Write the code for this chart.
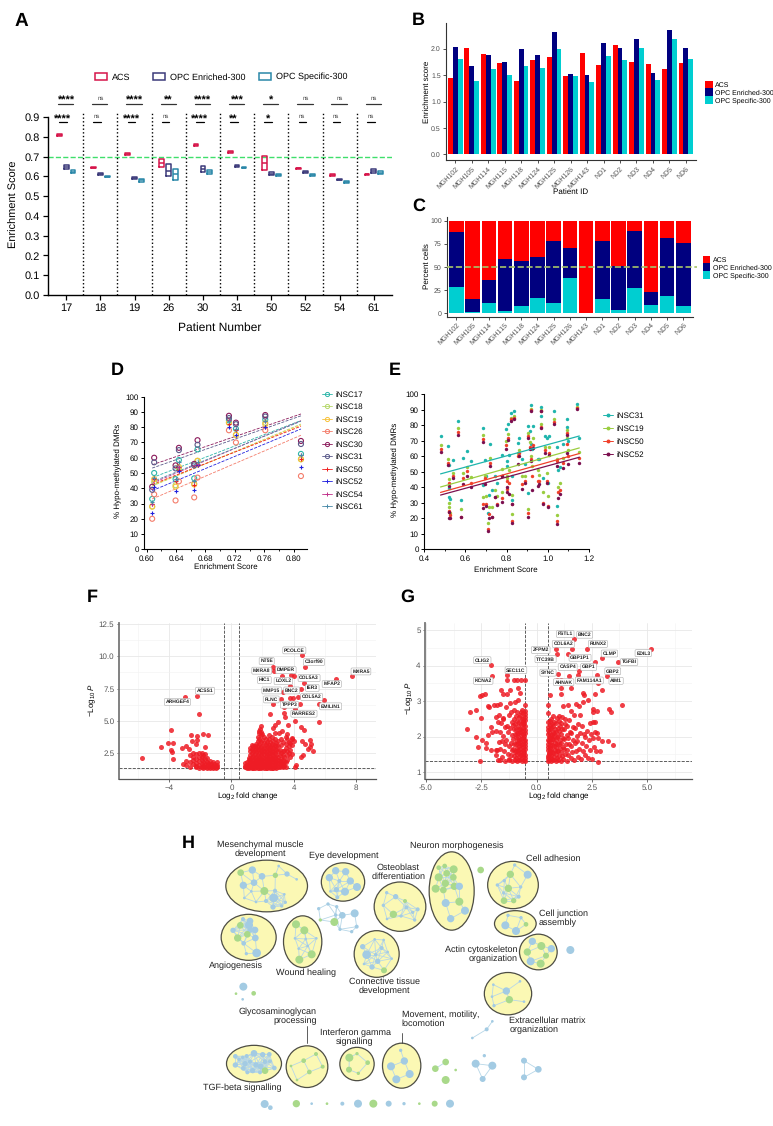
import numpy as np, pandas as pd, matplotlib
matplotlib.use("Agg")
import matplotlib.pyplot as plt, seaborn as sns
import matplotlib.transforms as mtrans
from matplotlib.lines import Line2D
from matplotlib.patches import Patch, Ellipse
from matplotlib.collections import LineCollection
from matplotlib.ticker import MultipleLocator, AutoMinorLocator

sns.set_theme(style="ticks")
plt.rcParams['font.family'] = ['Liberation Sans', 'DejaVu Sans']
plt.rcParams.update({'mathtext.fontset': 'custom', 'mathtext.rm': 'Liberation Sans',
                     'mathtext.it': 'Liberation Sans:italic', 'mathtext.bf': 'Liberation Sans:bold',
                     'axes.edgecolor': 'black', 'text.color': 'black', 'axes.labelcolor': 'black',
                     'xtick.color': 'black', 'ytick.color': 'black', 'text.hinting': 'no_hinting', 'text.hinting_factor': 1})

# ---------- Panel A
patients = ['17', '18', '19', '26', '30', '31', '50', '52', '54', '61']
acs_low = [.806, .640, .708, .648, .755, .716, .630, .636, .604, .606]
acs_mid = [.810, .644, .713, .668, .760, .722, .667, .640, .608, .610]
acs_high = [.814, .648, .718, .688, .766, .728, .705, .643, .612, .614]
oe_low = [.638, .609, .585, .600, .620, .649, .605, .619, .580, .615]
oe_mid = [.647, .613, .590, .625, .635, .652, .613, .623, .583, .625]
oe_high = [.656, .617, .596, .662, .650, .656, .622, .627, .587, .635]
os_low = [.615, .595, .572, .580, .610, .640, .603, .600, .568, .613]
os_mid = [.623, .598, .580, .610, .620, .643, .607, .605, .572, .619]
os_high = [.632, .602, .588, .635, .632, .647, .611, .610, .576, .625]
sig_top = ['****', 'ns', '****', '**', '****', '***', '*', 'ns', 'ns', 'ns']
sig_low = ['****', 'ns', '****', 'ns', '****', '**', '*', 'ns', 'ns', 'ns']

# ---------- Panels B, C
samples = ['MGH102', 'MGH105', 'MGH114', 'MGH115', 'MGH118', 'MGH124', 'MGH125', 'MGH126', 'MGH143',
           'ND1', 'ND2', 'ND3', 'ND4', 'ND5', 'ND6']
b_acs = [1.45, 2.02, 1.90, 1.74, 1.39, 1.78, 1.85, 1.48, 1.93, 1.69, 2.07, 1.75, 1.71, 1.61, 1.73]
b_oe = [2.04, 1.67, 1.88, 1.75, 1.99, 1.88, 2.32, 1.53, 1.50, 2.12, 2.02, 2.19, 1.55, 2.36, 2.02]
b_os = [1.80, 1.39, 1.61, 1.51, 1.67, 1.63, 2.00, 1.49, 1.37, 1.87, 1.79, 2.01, 1.41, 2.19, 1.81]
c_os = [28, 1.5, 10.5, 2.5, 8, 16, 10.5, 38, 0, 15, 3, 27, 8.5, 18, 8]
c_oe = [60, 13.5, 25.5, 56, 48.5, 45, 67.5, 33, 0, 63.5, 47.5, 61.5, 14.5, 63, 68.5]
c_acs = [12, 85, 64, 41.5, 43.5, 39, 22, 29, 100, 21.5, 49.5, 11.5, 77, 19, 23.5]

# ---------- Panel D
d_x = [.6077, .6104, .6394, .6439, .6647, .6692, .7118, .7213, .7611, .8095]
d_series = ['iNSC17', 'iNSC18', 'iNSC19', 'iNSC26', 'iNSC30', 'iNSC31', 'iNSC50', 'iNSC52', 'iNSC54', 'iNSC61']
d_17 = [33, 50, 46, 58.5, 46.5, 65.5, 84.5, 79, 85, 62.5]
d_18 = [28, 44, 42, 53, 43, 58, 83, 75, 83, 59]
d_19 = [28, 46, 41, 54, 42.5, 58, 83, 75, 82, 59]
d_26 = [20, 36, 32, 44.5, 34, 47, 78, 70, 78, 48]
d_30 = [41, 60, 55, 66.5, 56, 71.5, 87.5, 83, 88, 71]
d_31 = [39, 57, 53, 65, 55, 68.5, 86, 82, 87, 69]
d_50 = [30, 46, 45, 52, 42, 55, 82, 78, 80, 59]
d_52 = [24, 41, 38, 51, 39, 55, 80, 75, 80, 54]
d_54 = [30, 47, 46, 54, 45, 56, 85, 79, 84, 62]
d_61 = [31, 47, 46, 57, 45, 57, 84, 79, 84, 62]

# ---------- Panel E
e_x = [.479, .517, .519, .520, .522, .524, .541, .564, .577, .588, .609, .628, .683, .687, .695, .700, .708, .712,
       .717, .730, .742, .755, .776, .778, .795, .802, .803, .808, .809, .821, .824, .826, .836, .857, .862, .876,
       .889, .905, .906, .913, .918, .919, .921, .930, .954, .955, .965, .967, .978, .986, .994, 1.0, 1.006, 1.03,
       1.043, 1.046, 1.051, 1.059, 1.075, 1.091, 1.095, 1.096, 1.143, 1.153]
e_31 = [73, 66.5, 54.5, 39.5, 34, 32.5, 57.6, 83, 32, 58.7, 63.7, 57, 78, 41.5, 57.5, 47, 23.5, 35, 68, 38, 47, 43, 61,
        47, 77.5, 57, 53.5, 81, 61, 88, 47, 32, 89, 68.5, 72, 58, 55, 79.5, 36.5, 76.5, 93, 68, 65, 79.5, 58, 58, 92, 86,
        46, 73, 72, 43, 73, 89, 66, 28, 51, 53, 68, 84, 79, 70, 94, 72]
e_19 = [67.5, 58.5, 45.5, 30, 27, 23.5, 49.5, 78, 26, 49, 53, 46.5, 73.5, 33.5, 47, 34.5, 17, 27.5, 59, 27, 38, 34.5,
        52, 37, 70, 47, 46, 74.5, 51, 85, 35, 23, 86, 62, 64, 47, 47, 75, 26, 69, 90.5, 60, 54, 72, 51, 48, 90, 81, 37,
        66, 49, 34.5, 66, 84, 58, 22, 40, 43, 59, 77, 72, 64, 92, 63]
e_50 = [64.5, 56, 43, 24.5, 24, 22, 47.5, 75.5, 21, 46, 50.5, 42.5, 71, 29.5, 46, 29.5, 13, 23, 55.5, 21, 34, 29, 47,
        33, 67, 44, 39, 72, 43, 84, 29, 18, 85, 60, 62, 42, 44, 73, 23.5, 66, 90, 58, 47, 67, 44, 44, 89, 79, 30, 64, 44,
        28, 62, 82, 57, 18, 37, 38, 56, 75, 68, 60, 91, 59]
e_52 = [63, 54.5, 41, 24, 20.5, 20, 46, 74, 21, 42, 47, 40, 69.5, 26.5, 42, 28, 12, 20.5, 53.5, 21, 34, 28.5, 47, 30.5,
        65, 40, 37, 70.5, 36, 83, 29, 17, 84, 55, 60, 39, 43, 72, 21, 65, 89.5, 57, 38, 65.5, 41, 42, 89, 78, 29, 62, 43,
        27, 61, 81, 54, 16.5, 33, 36, 52.5, 74, 62, 55, 90.5, 55.5]

# ---------- Panel F (volcano)
f_cols = {
 0.9: [1.35, 1.5, 1.7], 1.0: [1.32, 1.4, 1.55, 1.8], 1.1: [1.3, 1.45, 1.65, 1.9, 2.1],
 1.2: [1.35, 1.5, 1.75, 2.0, 2.3, 2.6, 2.9], 1.3: [1.3, 1.42, 1.6, 1.85, 2.2, 2.5, 2.8, 3.1],
 1.4: [1.33, 1.5, 1.7, 1.95, 2.25, 2.65, 3.0], 1.5: [1.3, 1.45, 1.6, 1.8, 2.1, 2.4, 2.75, 3.05],
 1.6: [1.35, 1.52, 1.72, 1.9, 2.2, 2.55, 2.9, 3.2], 1.7: [1.3, 1.44, 1.6, 1.85, 2.05, 2.35, 2.7, 3.0, 3.4, 3.7],
 1.8: [1.33, 1.5, 1.68, 1.92, 2.15, 2.45, 2.8, 3.15, 3.6, 4.0, 4.2],
 1.9: [1.3, 1.42, 1.6, 1.78, 2.0, 2.3, 2.6, 2.95, 3.3, 3.85, 4.1],
 2.0: [1.35, 1.55, 1.75, 1.95, 2.2, 2.5, 2.75, 3.05, 3.5, 3.95],
 2.1: [1.3, 1.46, 1.64, 1.85, 2.1, 2.4, 2.65, 2.9, 3.25, 3.7],
 2.2: [1.34, 1.52, 1.72, 1.98, 2.25, 2.55, 2.85, 3.15, 3.6],
 2.3: [1.3, 1.45, 1.62, 1.8, 2.05, 2.35, 2.6, 3.0, 3.3],
 2.4: [1.36, 1.55, 1.78, 2.0, 2.28, 2.5, 2.8, 3.1, 3.55, 3.9],
 2.5: [1.3, 1.48, 1.7, 1.92, 2.15, 2.45, 2.7, 2.95, 3.35],
 2.6: [1.34, 1.58, 1.82, 2.1, 2.4, 2.62, 3.0, 3.2, 3.7],
 2.7: [1.3, 1.5, 1.75, 1.98, 2.25, 2.55, 2.85, 3.4],
 2.8: [1.38, 1.62, 1.88, 2.15, 2.5, 2.8, 3.1, 3.6, 4.0],
 2.9: [1.32, 1.55, 1.8, 2.05, 2.35, 2.7, 3.0, 3.25],
 3.0: [1.42, 1.68, 1.95, 2.2, 2.6, 3.05, 3.45], 3.1: [1.35, 1.6, 1.85, 2.3, 2.75],
 3.2: [1.45, 1.7, 2.05, 2.45, 3.1, 3.6], 3.3: [1.38, 1.65, 1.95, 2.35, 2.65, 3.3],
 3.4: [1.5, 1.8, 2.15, 2.6], 3.5: [1.4, 1.75, 2.9, 3.2, 3.7], 3.6: [1.9, 2.3, 2.6, 3.55],
 3.7: [2.45, 3.0, 3.35], 3.8: [2.15, 2.75, 3.25], 3.9: [2.4, 3.1, 3.6], 4.0: [3.4],
 -3.1: [1.6], -2.9: [1.85, 1.55], -2.7: [1.75, 1.4, 2.3], -2.5: [1.6, 1.9, 2.2, 2.45],
 -2.3: [1.35, 1.7, 2.05, 2.4, 1.5], -2.1: [1.32, 1.55, 1.85, 2.15, 2.45], -1.9: [1.35, 1.6, 1.9, 2.2, 2.5],
 -1.8: [1.3, 1.5, 1.75, 2.3], -1.7: [1.42, 1.65, 2.0, 2.4], -1.6: [1.32, 1.55, 1.8, 2.1], -1.5: [1.4, 1.7],
 -1.4: [1.3, 1.55, 1.85], -1.3: [1.38, 1.62], -1.2: [1.3, 1.5, 1.75], -1.1: [1.35, 1.6], -1.0: [1.3, 1.45],
 -0.9: [1.38, 1.8, 1.55]}
f_extra = [(4.74, 9.17), (4.57, 10.08), (7.79, 8.44), (6.71, 8.24), (2.68, 9.15), (2.72, 8.89), (3.26, 8.47), (3.84, 8.55),
 (4.03, 8.45), (4.67, 7.9), (3.79, 7.72), (4.5, 7.5), (3.32, 7.2), (3.77, 6.78), (3.99, 6.78), (4.29, 6.83), (3.19, 6.65),
 (5.94, 6.58), (5.64, 6.26), (4.39, 6.26), (2.7, 6.26), (3.36, 6.08), (4.07, 5.87), (2.49, 5.51), (3.41, 5.56), (3.47, 5.28),
 (4.07, 4.99), (5.62, 4.86), (3.0, 4.86), (2.81, 4.65), (3.62, 4.63), (2.66, 4.4), (4.46, 4.47), (4.67, 4.27), (1.88, 4.58),
 (1.84, 4.32), (3.23, 4.21), (3.04, 4.06), (3.6, 3.95), (3.9, 3.67), (4.52, 3.38), (5.06, 3.46), (4.76, 3.17), (5.15, 3.17),
 (5.06, 2.97), (4.93, 2.79), (5.23, 2.63), (4.63, 2.32), (4.46, 2.14), (4.16, 1.57), (4.11, 1.41),
 (-2.24, 6.92), (-2.99, 6.81), (-2.07, 5.51), (-3.89, 4.27), (-1.81, 3.96), (-1.51, 3.88), (-2.58, 3.88), (-2.24, 3.83),
 (-2.24, 3.49), (-2.52, 3.44), (-4.11, 3.23), (-3.79, 3.23), (-4.54, 2.97), (-2.93, 3.02), (-2.28, 3.15), (-1.7, 2.92),
 (-3.2, 2.84), (-2.71, 2.79), (-3.89, 2.71), (-3.81, 2.53), (-5.74, 2.11), (-3.76, 2.0)]
f_genes = [('PCOLCE', 4.05, 10.47), ('C3orf90', 5.32, 9.56), ('MXRA5', 8.34, 8.83), ('NT5E', 2.27, 9.64), ('MXRA8', 1.95, 8.89),
 ('DMPER', 3.51, 8.94), ('COL5A3', 5.0, 8.32), ('HIC1', 2.12, 8.16), ('LOXL2', 3.34, 8.08), ('MFAP2', 6.46, 7.85),
 ('IER3', 5.21, 7.54), ('MMP15', 2.59, 7.35), ('BNC2', 3.88, 7.35), ('COL5A2', 5.17, 6.84), ('FLNC', 2.57, 6.65),
 ('TPPP3', 3.73, 6.24), ('EMILIN1', 6.39, 6.11), ('RARRES2', 4.67, 5.54), ('ACSS1', -1.70, 7.33), ('ARHGEF4', -3.48, 6.45)]

# ---------- Panel G (volcano)
g_left = [(-.51,1.31),(-.53,1.39),(-.5,1.47),(-.56,1.55),(-.52,1.66),(-.5,1.74),(-.54,1.83),(-.51,1.9),(-.57,2.02),(-.5,2.11),
 (-.53,2.19),(-.52,2.3),(-.55,2.38),(-.5,2.47),(-.53,2.55),(-.51,2.63),(-.54,2.72),(-.52,2.88),(-.58,1.34),(-.61,1.44),(-.59,1.52),
 (-.63,1.61),(-.6,1.71),(-.64,1.79),(-.58,1.87),(-.62,1.97),(-.6,2.06),(-.65,2.16),(-.59,2.24),(-.62,2.35),(-.6,2.44),(-.63,2.53),
 (-.6,2.66),(-.66,2.76),(-.67,1.3),(-.7,1.38),(-.72,1.47),(-.68,1.57),(-.73,1.65),(-.69,1.76),(-.74,1.85),(-.68,1.94),(-.71,2.03),
 (-.75,2.12),(-.69,2.22),(-.72,2.36),(-.67,2.49),(-.73,2.6),(-.7,2.69),(-.78,1.33),(-.81,1.43),(-.77,1.53),(-.83,1.62),(-.79,1.72),
 (-.84,1.81),(-.78,1.9),(-.82,2.0),(-.85,2.09),(-.79,2.2),(-.83,2.31),(-.77,2.42),(-.81,2.55),(-.86,2.68),(-.88,1.31),(-.91,1.4),
 (-.87,1.5),(-.93,1.59),(-.89,1.69),(-.95,1.78),(-.9,1.88),(-.94,1.98),(-.88,2.1),(-.92,2.22),(-.96,2.35),(-.89,2.45),(-.94,2.58),
 (-.98,1.35),(-1.02,1.45),(-.99,1.56),(-1.05,1.66),(-1.01,1.8),(-1.06,1.93),(-.99,2.06),(-1.03,2.2),(-1.07,2.33),(-1.0,2.5),(-1.04,2.75),
 (-.97,2.98),(-1.1,1.31),(-1.14,1.47),(-1.09,1.62),(-1.17,1.83),(-1.12,2.03),(-1.18,2.24),(-1.11,2.4),(-1.16,2.7),(-1.19,2.95),
 (-1.24,1.36),(-1.31,1.52),(-1.26,1.72),(-1.36,1.9),(-1.28,2.12),(-1.34,2.3),(-1.25,2.62),(-1.38,2.84),(-1.42,1.31),(-1.47,1.58),
 (-1.41,1.8),(-1.5,2.02),(-1.44,2.26),(-1.53,2.5),(-1.57,1.42),(-1.63,1.65),(-1.56,1.88),(-1.66,2.12),(-1.59,2.38),(-1.68,2.6),
 (-1.73,1.35),(-1.79,1.62),(-1.71,1.85),(-1.82,2.16),(-1.76,2.4),(-1.8,2.9)]
g_right = [(.5,1.31),(.53,1.39),(.51,1.46),(.55,1.54),(.5,1.63),(.54,1.71),(.52,1.8),(.5,1.9),(.56,2.0),(.52,2.08),(.5,2.17),(.54,2.26),
 (.51,2.4),(.53,2.66),(.5,2.9),(.58,1.34),(.61,1.42),(.57,1.51),(.63,1.6),(.59,1.68),(.62,1.76),(.58,1.86),(.6,1.95),(.64,2.05),(.57,2.13),
 (.61,2.22),(.59,2.32),(.63,2.45),(.66,1.3),(.69,1.37),(.65,1.47),(.71,1.57),(.67,1.66),(.72,1.75),(.66,1.84),(.7,1.93),(.68,2.03),(.73,2.12),
 (.66,2.25),(.7,2.36),(.67,2.5),(.76,1.33),(.8,1.43),(.75,1.53),(.82,1.62),(.77,1.72),(.83,1.82),(.76,1.92),(.81,2.01),(.78,2.11),(.84,2.2),
 (.76,2.3),(.8,2.42),(.74,2.58),(.87,1.31),(.91,1.4),(.86,1.5),(.93,1.6),(.88,1.7),(.94,1.8),(.87,1.9),(.92,2.0),(.89,2.13),(.95,2.24),(.88,2.38),
 (.93,2.52),(.97,1.35),(1.02,1.46),(.98,1.58),(1.05,1.68),(1.0,1.79),(1.06,1.9),(.99,2.02),(1.03,2.15),(1.07,2.3),(1.0,2.45),(1.04,2.58),
 (1.1,1.32),(1.15,1.44),(1.09,1.56),(1.18,1.7),(1.12,1.82),(1.19,1.95),(1.11,2.08),(1.16,2.22),(1.09,2.38),(1.14,2.55),(1.22,1.36),(1.28,1.5),
 (1.24,1.64),(1.33,1.78),(1.26,1.92),(1.36,2.05),(1.23,2.2),(1.31,2.34),(1.27,2.5),(1.21,2.85),(1.38,1.32),(1.44,1.48),(1.4,1.62),(1.49,1.8),
 (1.42,1.96),(1.5,2.12),(1.39,2.3),(1.46,2.46),(1.43,2.9),(1.54,1.4),(1.6,1.56),(1.56,1.74),(1.66,1.9),(1.58,2.1),(1.63,2.28),(1.55,2.72),
 (1.7,1.34),(1.78,1.6),(1.72,1.82),(1.81,2.02),(1.74,2.24),(1.69,2.6),(1.77,2.92),(1.87,1.42),(1.93,1.64),(1.85,1.86),(1.96,2.1),(1.89,2.35),
 (1.98,2.62),(1.92,2.85),(2.03,1.36),(2.1,1.6),(2.05,1.82),(2.14,2.06),(2.08,2.3),(2.19,1.48),(2.25,1.72),(2.2,1.98),(2.28,2.16),(2.35,1.4),
 (2.42,1.62),(2.37,1.9),(2.45,2.08),(2.53,1.36),(2.6,1.7),(2.55,1.96),(2.63,2.12),(2.66,2.4),(2.7,1.58),(2.76,1.95),(2.72,2.1)]
g_extra = [(-2.07, 4.01), (-2.01, 3.7), (-1.32, 3.74), (-1.32, 3.6), (-1.02, 3.6), (-.9, 3.6), (-.72, 3.6), (-.5, 3.6), (-.85, 3.38),
 (-1.59, 3.32), (-1.2, 3.32), (-1.5, 3.2), (-1.35, 3.2), (-.75, 3.22), (-.82, 3.03), (-2.56, 3.15), (-2.48, 3.18), (-2.35, 3.21),
 (-2.18, 2.87), (-2.15, 2.82), (-1.91, 2.89), (-1.67, 2.92), (-2.72, 2.74), (-3.02, 2.7), (-2.5, 2.52), (-1.85, 2.56), (-1.53, 2.52),
 (-3.16, 2.22), (-2.07, 2.28), (-2.75, 2.0), (-2.45, 1.9), (-2.63, 1.71), (-2.54, 1.31), (-2.28, 1.67), (-2.18, 2.03), (-2.03, 2.14),
 (-2.28, 1.83), (-2.07, 1.62), (-1.85, 1.62), (-1.85, 1.48), (-1.66, 1.33), (-1.25, 1.33),
 (5.17, 4.47), (1.7, 4.75), (2.3, 4.47), (1.6, 4.47), (.88, 4.47), (.93, 4.33), (1.41, 4.32), (2.95, 4.21), (2.65, 4.09), (3.7, 4.09),
 (1.94, 3.85), (1.88, 3.74), (2.72, 3.74), (3.17, 3.71), (.99, 3.75), (1.47, 3.71), (.91, 3.6), (1.1, 3.58), (2.8, 3.5), (1.11, 3.38),
 (1.55, 3.38), (2.95, 3.32), (.61, 3.18), (1.11, 3.21), (2.12, 3.22), (2.17, 3.17), (2.65, 3.2), (2.32, 3.03), (2.12, 2.97), (3.87, 2.89),
 (3.3, 2.78), (3.37, 2.68), (2.72, 2.73), (2.54, 2.77), (2.57, 2.69), (2.54, 2.4), (2.42, 2.37), (3.47, 1.76), (3.25, 1.88), (2.95, 1.88),
 (2.87, 1.59), (2.77, 1.29)]
g_genes = [('FSTL1', 1.30, 4.89), ('BNC2', 2.18, 4.87), ('COL6A2', 1.21, 4.61), ('RUNX2', 2.78, 4.61), ('ZFPM2', 0.19, 4.44),
 ('CLMP', 3.30, 4.34), ('EDIL3', 4.83, 4.35), ('TTC39B', 0.41, 4.18), ('GBP1P1', 1.97, 4.22), ('TGFBI', 4.19, 4.10),
 ('OLIG2', -2.45, 4.15), ('CASP4', 1.41, 3.96), ('GBP1', 2.36, 3.96), ('SEC11C', -0.93, 3.87), ('SYNC', 0.52, 3.80),
 ('GBP2', 3.45, 3.84), ('KCNA2', -2.41, 3.57), ('AHNAK', 1.23, 3.53), ('FAM114A1', 2.39, 3.58), ('AIM1', 3.60, 3.57)]

# ---------- Panel H (network: x, y, radius, colour class)
h_mesen = [(212,158,10,'g'),(247,150,11,'b'),(276,169,10,'b'),(252,188,10,'b'),(220,196,11,'b'),(283,213,12,'g'),(316,166,8,'g'),
 (351,162,8,'b'),(326,138,4,'b'),(380,178,4,'b'),(315,212,6,'b'),(311,234,13,'b'),(343,223,4,'b'),(346,247,5,'b'),(309,261,8,'b'),
 (288,243,6,'b'),(335,258,5,'b'),(258,246,4,'b'),(223,234,4,'b'),(244,214,4,'b')]
h_eye = [(497,152,11,'b'),(527,155,11,'b'),(478,173,11,'b'),(508,183,6,'b'),(541,183,11,'b'),(561,201,12,'b'),(499,209,8,'b'),
 (525,215,12,'b'),(481,214,4,'b'),(502,232,6,'b')]
h_osteo = [(650,218,5,'b'),(677,230,8,'b'),(705,243,6,'g'),(640,256,5,'b'),(709,262,6,'b'),(743,268,6,'b'),(670,283,11,'g'),
 (693,288,5,'b'),(728,277,5,'b'),(734,300,5,'b'),(651,297,4,'b')]
h_neuron = [(806,143,7,'g'),(824,138,7,'g'),(851,148,12,'g'),(806,172,12,'g'),(830,160,10,'g'),(850,172,10,'g'),(797,206,12,'g'),
 (826,190,11,'g'),(853,199,11,'g'),(820,210,10,'g'),(868,199,11,'b'),(827,249,12,'b'),(868,245,12,'g'),(885,272,12,'b'),(842,296,11,'b')]
h_adh = [(1034,135,5,'b'),(1073,164,12,'b'),(1021,163,11,'g'),(982,195,5,'b'),(1003,182,5,'b'),(1015,205,11,'g'),(1052,201,5,'b'),
 (1001,219,5,'b'),(1046,230,6,'b'),(1002,242,10,'g'),(1031,242,8,'g')]
h_junc = [(1014,286,5,'b'),(1053,293,5,'b'),(1006,316,12,'b'),(1038,333,12,'b'),(1068,313,7,'g')]
h_actin = [(1087,364,11,'b'),(1114,378,12,'g'),(1072,396,11,'g'),(1144,386,11,'b'),(1128,407,9,'g'),(1082,424,12,'b'),(1112,431,12,'g'),(1201,390,12,'b')]
h_ecm = [(970,494,4,'b'),(1050,484,4,'b'),(1009,513,11,'b'),(966,530,4,'b'),(1018,539,11,'g'),(1062,545,4,'b'),(972,557,5,'b')]
h_angio = [(240,303,10,'b'),(219,297,6,'b'),(211,316,10,'g'),(237,315,12,'b'),(189,331,8,'b'),(255,330,10,'b'),(240,330,8,'b'),(232,343,10,'g'),
 (203,354,11,'g'),(256,354,10,'b'),(221,370,7,'b'),(260,399,13,'b'),(229,401,5,'b')]
h_wound = [(378,313,12,'g'),(403,331,12,'g'),(375,355,4,'b'),(407,357,4,'b'),(439,355,4,'b'),(413,378,4,'b'),(386,386,4,'b'),(388,419,12,'g'),(425,403,12,'g')]
h_float = [(446,266,5,'b'),(474,252,5,'b'),(500,260,5,'b'),(497,285,5,'b'),(451,300,5,'g'),(493,306,12,'g'),(517,286,10,'b'),(554,280,12,'b'),
 (510,328,5,'b'),(560,320,6,'b'),(545,335,5,'b')]
h_conn = [(578,380,8,'b'),(614,358,4,'b'),(641,360,4,'b'),(635,384,6,'b'),(665,416,4,'b'),(653,396,4,'b'),(590,404,13,'b'),(617,404,5,'b'),
 (623,424,8,'b'),(606,441,8,'b'),(642,451,9,'g'),(582,432,4,'b')]
h_tgf = [(196,709,7,'b'),(196,735,8,'b'),(225,731,8,'b'),(230,708,6,'b'),(252,700,10,'b'),(278,704,8,'b'),(298,703,7,'b'),(218,712,5,'b'),
 (240,725,6,'b'),(258,735,8,'b'),(272,740,9,'b'),(285,752,10,'g'),(300,724,6,'b'),(313,744,7,'b'),(220,745,7,'b'),(248,752,8,'b'),
 (232,757,6,'b'),(270,757,6,'b'),(207,718,5,'b'),(285,725,7,'b')]
h_glyco = [(438,702,6,'g'),(401,722,7,'g'),(363,738,4,'g'),(458,740,6,'g'),(418,756,7,'g'),(381,780,4,'g')]
h_ifn = [(538,713,12,'g'),(561,701,5,'g'),(593,728,7,'g'),(537,749,9,'g'),(565,760,5,'g')]
h_move = [(692,691,5,'b'),(703,723,11,'b'),(663,739,12,'b'),(719,762,12,'b'),(679,778,12,'b')]
h_c1 = [(796,746,10,'g'),(827,726,10,'g')]
h_c2 = [(917,731,12,'b'),(967,737,12,'b'),(938,777,9,'b')]
h_c3 = [(1062,722,9,'b'),(1105,748,10,'b'),(1062,772,9,'b')]
h_c4 = [(967,604,4,'b'),(950,628,6,'b'),(907,654,4,'b')]
h_single = [(932,150,10,'g'),(220,500,12,'b'),(198,521,4,'g'),(251,520,7,'g'),(218,538,4,'b'),(857,750,4,'g'),(827,780,12,'g'),(943,707,5,'b'),
 (284,852,12,'b'),(301,863,7,'b'),(379,851,11,'g'),(425,851,4,'b'),(471,851,4,'g'),(517,851,6,'b'),(564,851,12,'b'),(610,851,12,'g'),
 (656,851,9,'b'),(702,851,5,'b'),(748,851,4,'g'),(794,851,9,'g'),(840,851,12,'b')]
h_ellipses = [(290,198,245,155),(519,186,130,115),(690,260,155,148),(845,213,135,235),(1029,195,152,142),(1036,311,125,78),
 (1105,396,113,107),(1014,521,142,127),(236,352,165,138),(398,365,115,155),(620,402,135,140),(252,731,165,110),(411,740,125,125),
 (561,732,103,100),(695,737,115,135)]
h_labels = [('Mesenchymal muscle\ndevelopment',271,87,'center'),('Eye development',520,107,'center'),('Osteoblast\ndifferentiation',685,156,'center'),
 ('Neuron morphogenesis',859,77,'center'),('Cell adhesion',1150,116,'center'),('Cell junction\nassembly',1106,295,'left'),
 ('Actin cytoskeleton\norganization',1042,403,'right'),('Extracellular matrix\norganization',1018,615,'left'),('Angiogenesis',197,438,'center'),
 ('Wound healing',407,458,'center'),('Connective tissue\ndevelopment',644,500,'center'),('Glycosaminoglycan\nprocessing',440,590,'right'),
 ('Interferon gamma\nsignalling',555,652,'center'),('Movement, motility,\nlocomotion',695,597,'left'),('TGF-beta signalling',218,803,'center')]

# ---------- Figure helpers
W, H = 773, 1126
fig = plt.figure(figsize=(W / 100, H / 100), dpi=100, facecolor='white')
px = mtrans.Affine2D().scale(1 / W, -1 / H).translate(0, 1) + fig.transFigure

def axpx(l, t, r, b):
    ax = fig.add_axes([l / W, 1 - b / H, (r - l) / W, (b - t) / H])
    ax.set_facecolor('none')
    return ax

def labels(ax, xl, xpos, yl, ypos, size):
    ax.set_xlabel(xl, fontsize=size, va='center')
    ax.xaxis.set_label_coords(xpos[0], xpos[1], transform=px)
    ax.set_ylabel(yl, fontsize=size, va='center')
    ax.yaxis.set_label_coords(ypos[0], ypos[1], transform=px)

for s, x, y, fs in [('A', 15, 21, 14), ('B', 412, 20, 13), ('C', 412, 206, 13), ('D', 111, 370, 13), ('E', 389, 370, 13), ('F', 87, 597, 13), ('G', 400, 597, 13), ('H', 182, 843, 13)]:
    fig.text(x / W, 1 - y / H, s, fontsize=fs, fontweight='bold', va='center', ha='left')

groups = ['ACS', 'OPC Enriched-300', 'OPC Specific-300']

# ---------- A
axA = axpx(48, 117, 392, 295)
pal_a = dict(zip(groups, ['#D6154A', '#3C3A7A', '#2A87A8']))
rows = []
for g, lo, mid, hi in [(groups[0], acs_low, acs_mid, acs_high), (groups[1], oe_low, oe_mid, oe_high), (groups[2], os_low, os_mid, os_high)]:
    for p, a, b, c in zip(patients, lo, mid, hi):
        rows += [(p, g, v) for v in (a, a, b, c, c)]
dfA = pd.DataFrame(rows, columns=['patient', 'group', 'score'])
sns.boxplot(data=dfA, x='patient', y='score', hue='group', order=patients, hue_order=groups, palette=pal_a, fill=False,
            width=0.6, gap=0.3, linewidth=1.1, whis=(0, 100), showcaps=False, fliersize=0, legend=False, ax=axA)
axA.set_xlim(-0.53, 9.53); axA.set_ylim(0, 0.9)
axA.set_yticks(np.arange(0, 0.91, 0.1)); axA.set_yticklabels([f'{v:.1f}' for v in np.arange(0, 0.91, 0.1)])
axA.tick_params(labelsize=8, length=3.5, width=0.9, pad=2)
axA.axhline(0.7, color='#3FDF6B', ls='--', lw=1.0, zorder=0)
axA.vlines(np.arange(9) + 0.5, 0, 0.924, color='black', ls=':', lw=1.0, clip_on=False)
sns.despine(ax=axA)
axA.spines['left'].set_linewidth(1); axA.spines['bottom'].set_linewidth(1)
labels(axA, 'Patient Number', (220, 328), 'Enrichment Score', (14, 204), 8.7)
axA.yaxis.label.set_fontsize(7.9)
tr = mtrans.blended_transform_factory(axA.transData, px)
for i, (t, b) in enumerate(zip(sig_top, sig_low)):
    axA.plot([i - 0.24, i + 0.21], [104, 104], color='#333333', lw=0.9, transform=tr, clip_on=False)
    axA.plot([i - 0.2, i + 0.02], [122.3, 122.3], color='black', lw=0.9, transform=tr, clip_on=False)
    for s, x, y_st, y_ns in [(t, i, 103.7, 99.8), (b, i - 0.1, 122, 118.2)]:
        star = s != 'ns'
        axA.text(x, y_st if star else y_ns, s, transform=tr, ha='center', va='baseline', clip_on=False,
                 fontsize=7.6 if star else 4.3, fontweight='bold' if star else 'normal', color='black' if star else '#444444')
for g, xp in zip(groups, [95, 153, 259]):
    leg = axA.legend(handles=[Patch(fill=False, edgecolor=pal_a[g], lw=1.1, label=g)], loc='center left', bbox_to_anchor=(xp, 77),
                     bbox_transform=px, frameon=False, fontsize=6.7, handlelength=1.3, handleheight=0.9, handletextpad=0.55,
                     borderpad=0, borderaxespad=0)
    axA.add_artist(leg)
    axA.legend_ = None

# ---------- B
pal_b = dict(zip(groups, ['#FF0000', '#00007F', '#00CED1']))
axB = axpx(445.7, 23, 695.7, 160.3)
dfB = pd.DataFrame({'sample': samples * 3, 'group': np.repeat(groups, 15), 'score': b_acs + b_oe + b_os})
sns.barplot(data=dfB, x='sample', y='score', hue='group', order=samples, hue_order=groups, palette=pal_b, width=0.9, gap=0,
            saturation=1, errorbar=None, linewidth=0, ax=axB)
axB.set_xlim(-0.57, 14.59); axB.set_ylim(-0.114, 2.49)
axB.set_yticks([0, .5, 1, 1.5, 2]); axB.set_yticklabels(['0.0', '0.5', '1.0', '1.5', '2.0'])
sns.despine(ax=axB)
labels(axB, 'Patient ID', (570.7, 192), 'Enrichment score', (427, 92), 5.8)
sns.move_legend(axB, 'upper left', bbox_to_anchor=(705, 80.5), bbox_transform=px, title=None, frameon=False, fontsize=5.2,
                handlelength=1.05, handleheight=1.18, handletextpad=0.4, labelspacing=0.05, borderpad=0, borderaxespad=0)

# ---------- C
axC = axpx(446.7, 216.7, 693, 317)
rowsC = []
for g, v in zip(groups, [np.array(c_acs) + c_oe + c_os, np.array(c_oe) + c_os, np.array(c_os, float)]):
    rowsC += [(s, g, x) for s, x in zip(samples, v)]
dfC = pd.DataFrame(rowsC, columns=['sample', 'group', 'cum'])
sns.barplot(data=dfC, x='sample', y='cum', hue='group', order=samples, hue_order=groups, palette=pal_b, width=0.9, dodge=False,
            saturation=1, errorbar=None, linewidth=0, ax=axC)
axC.set_xlim(-0.6, 14.6); axC.set_ylim(-4.3, 104.5)
axC.set_yticks([0, 25, 50, 75, 100])
axC.plot([-0.6, 14.85], [50, 50], color='#A6C46A', ls='--', lw=1.2, clip_on=False, zorder=6)
sns.despine(ax=axC)
labels(axC, '', (570, 340), 'Percent cells', (427, 266), 5.8)
sns.move_legend(axC, 'upper left', bbox_to_anchor=(702.7, 255.5), bbox_transform=px, title=None, frameon=False, fontsize=5.2,
                handlelength=1.05, handleheight=1.18, handletextpad=0.4, labelspacing=0.05, borderpad=0, borderaxespad=0)
for ax in (axB, axC):
    ax.tick_params(axis='x', labelsize=5, labelcolor='#4d4d4d', color='#333333', length=2, width=0.6, pad=1.5, rotation=45)
    ax.tick_params(axis='y', labelsize=5.3, labelcolor='#4d4d4d', color='#333333', length=2, width=0.6, pad=1.5)
    for t in ax.get_xticklabels():
        t.set_ha('right'); t.set_rotation_mode('anchor')
    ax.spines['left'].set_linewidth(0.8); ax.spines['bottom'].set_linewidth(0.8)
    ax.spines['left'].set_color('#333333'); ax.spines['bottom'].set_color('#333333')

# ---------- D
axD = axpx(144.3, 396.7, 307, 549.3)
d_vals = [d_17, d_18, d_19, d_26, d_30, d_31, d_50, d_52, d_54, d_61]
d_cols = ['#2CB5A8', '#B5D86A', '#F7C23A', '#F47C6A', '#8B1A5B', '#5A5A8A', '#F02020', '#2222DD', '#C0308A', '#4A8AA8']
d_mark = ['o'] * 6 + ['+'] * 4
h_d = []
for name, v, c, m in zip(d_series, d_vals, d_cols, d_mark):
    sns.regplot(x=d_x, y=v, scatter=False, ci=None, truncate=True, ax=axD, color=c, line_kws={'ls': '--', 'lw': 0.6})
    if m == 'o':
        sns.scatterplot(x=d_x, y=v, marker='o', s=13, facecolors='none', edgecolor=c, linewidth=0.8, ax=axD, legend=False, zorder=3, clip_on=False)
    else:
        sns.scatterplot(x=d_x, y=v, marker='+', s=10, color=c, linewidth=0.8, ax=axD, legend=False, zorder=3, clip_on=False)
    h_d.append(Line2D([0], [0], color=c, ls='-', lw=0.6, marker=m, mfc=('none' if m == 'o' else c), mec=c, ms=3, mew=0.7, label=name))
axD.set_xlim(0.597, 0.8177); axD.set_ylim(0, 100)
axD.set_xticks([.60, .64, .68, .72, .76, .80]); axD.set_xticklabels(['0.60', '0.64', '0.68', '0.72', '0.76', '0.80'])
axD.xaxis.set_minor_locator(AutoMinorLocator(2))
axD.yaxis.set_major_locator(MultipleLocator(10))
labels(axD, 'Enrichment Score', (226, 567), '% Hypo-methylated DMRs', (118, 471), 6)
axD.legend(handles=h_d, loc='upper left', bbox_to_anchor=(322, 391), bbox_transform=px, frameon=False, fontsize=6, handlelength=1.15,
           handletextpad=0.45, labelspacing=0.6, borderpad=0, borderaxespad=0)

# ---------- E
axE = axpx(424.3, 394.3, 589, 549.3)
e_vals = [e_31, e_19, e_50, e_52]
e_names = ['iNSC31', 'iNSC19', 'iNSC50', 'iNSC52']
e_cols = ['#1FB5AD', '#9ACD40', '#F0402A', '#7B0F4F']
h_e = []
for name, v, c in zip(e_names, e_vals, e_cols):
    sns.regplot(x=e_x, y=v, ci=None, truncate=True, ax=axE, color=c, scatter_kws={'s': 6, 'alpha': 1, 'linewidths': 0}, line_kws={'lw': 0.9})
    h_e.append(Line2D([0], [0], color=c, lw=0.7, marker='o', ms=1.8, label=name))
axE.set_xlim(0.4, 1.2); axE.set_ylim(0, 100)
axE.set_xticks([.4, .6, .8, 1.0, 1.2]); axE.set_xticklabels(['0.4', '0.6', '0.8', '1.0', '1.2'])
axE.xaxis.set_minor_locator(AutoMinorLocator(2))
axE.yaxis.set_major_locator(MultipleLocator(10))
labels(axE, 'Enrichment Score', (506, 570), '% Hypo-methylated DMRs', (395, 470), 6)
axE.legend(handles=h_e, loc='upper left', bbox_to_anchor=(603, 412), bbox_transform=px, frameon=False, fontsize=6, handlelength=1.15,
           handletextpad=0.45, labelspacing=0.66, borderpad=0, borderaxespad=0)
for ax in (axD, axE):
    sns.despine(ax=ax)
    ax.tick_params(labelsize=6, length=2.5, width=0.7, pad=1.5)
    ax.tick_params(which='minor', length=1.5, width=0.6, bottom=True)
    ax.spines['left'].set_linewidth(0.8); ax.spines['bottom'].set_linewidth(0.8)

# ---------- F, G
def volcano(ax, pts, genes, fs):
    ax.grid(True, which='major', color='#e8e8e8', lw=0.6)
    ax.grid(True, which='minor', color='#f2f2f2', lw=0.4)
    ax.set_axisbelow(True)
    sns.scatterplot(x=[p[0] for p in pts], y=[p[1] for p in pts], color='#EE1C25', s=13, alpha=0.85, linewidth=0, ax=ax, legend=False, zorder=3)
    ax.axvline(-0.5, color='#444444', ls='--', lw=0.6, zorder=2)
    ax.axvline(0.5, color='#444444', ls='--', lw=0.6, zorder=2)
    ax.axhline(1.3, color='#444444', ls='--', lw=0.6, zorder=2)
    for g, x, y in genes:
        ax.text(x, y, g, fontsize=fs, fontweight='bold', ha='center', va='center', color='#222222', zorder=5,
                bbox=dict(boxstyle='round,pad=0.25', fc='white', ec='#aaaaaa', lw=0.4))
    sns.despine(ax=ax)
    ax.spines['left'].set_color('#777777'); ax.spines['left'].set_linewidth(1.3)
    ax.spines['bottom'].set_color('#555555'); ax.spines['bottom'].set_linewidth(0.9)
    ax.tick_params(labelsize=5.8, labelcolor='#555555', color='#555555', length=1.8, width=0.6, pad=1.5)
    ax.tick_params(which='minor', length=0)

axF = axpx(119, 623.3, 375.7, 779.3)
volcano(axF, [(x, y) for x, ys in f_cols.items() for y in ys] + f_extra, f_genes, 3.3)
axF.set_xlim(-7.24, 9.29); axF.set_ylim(0.43, 12.58)
axF.set_xticks([-4, 0, 4, 8]); axF.set_yticks([2.5, 5, 7.5, 10, 12.5]); axF.set_yticklabels(['2.5', '5.0', '7.5', '10.0', '12.5'])
axF.xaxis.set_minor_locator(AutoMinorLocator(2)); axF.yaxis.set_minor_locator(AutoMinorLocator(2))
labels(axF, r'$\mathrm{Log}_{2}$ fold change', (248, 796), r'$-\mathrm{Log}_{10}\ \mathit{P}$', (92, 700), 5.8)

axG = axpx(425.3, 623, 691.7, 779.3)
volcano(axG, g_left + g_right + g_extra, g_genes, 3.3)
axG.set_xlim(-5.03, 7.02); axG.set_ylim(0.794, 5.2)
axG.set_xticks([-5, -2.5, 0, 2.5, 5]); axG.set_xticklabels(['-5.0', '-2.5', '0.0', '2.5', '5.0']); axG.set_yticks([1, 2, 3, 4, 5])
axG.xaxis.set_minor_locator(AutoMinorLocator(2)); axG.yaxis.set_minor_locator(AutoMinorLocator(2))
labels(axG, r'$\mathrm{Log}_{2}$ fold change', (559, 796), r'$-\mathrm{Log}_{10}\ \mathit{P}$', (409, 698), 5.8)

# ---------- H
axH = axpx(170, 820, 590, 1126)
axH.set_xlim(0, 1260); axH.set_ylim(918, 0); axH.axis('off')
for cx, cy, w, h in h_ellipses:
    axH.add_patch(Ellipse((cx, cy), w, h, fc='#FBF8B4', ec='#4d4d44', lw=0.9, zorder=1))
linked = [h_mesen, h_eye, h_osteo, h_neuron, h_adh, h_junc, h_actin, h_ecm, h_angio, h_wound, h_float, h_conn, h_tgf, h_glyco, h_ifn, h_move, h_c1, h_c2, h_c3, h_c4]
segs = []
for cl in linked:
    for i, a in enumerate(cl):
        for b in cl[i + 1:]:
            if np.hypot(a[0] - b[0], a[1] - b[1]) < 52:
                segs.append([(a[0], a[1]), (b[0], b[1])])
axH.add_collection(LineCollection(segs, colors='#B7D7E8', linewidths=0.6, zorder=2))
nodes = pd.DataFrame([n for cl in linked + [h_single] for n in cl], columns=['x', 'y', 'r', 'kind'])
sns.scatterplot(data=nodes, x='x', y='y', hue='kind', palette={'b': '#A3CBE3', 'g': '#A9D98A'}, s=(0.48 * nodes['r']) ** 2, linewidth=0,
                legend=False, ax=axH, zorder=3)
axH.set_xlim(0, 1260); axH.set_ylim(918, 0)
for s, x, y, ha in h_labels:
    axH.text(x, y, s, fontsize=6.2, ha=ha, va='center', multialignment=ha, linespacing=1.12, color='#222222', zorder=4)
axH.plot([410, 410], [617, 668], color='#444444', lw=0.6, zorder=2)
axH.plot([697, 697], [640, 668], color='#444444', lw=0.6, zorder=2)
axH.set_xlabel(''); axH.set_ylabel('')

fig.savefig('out.png', dpi=100, facecolor='white')
